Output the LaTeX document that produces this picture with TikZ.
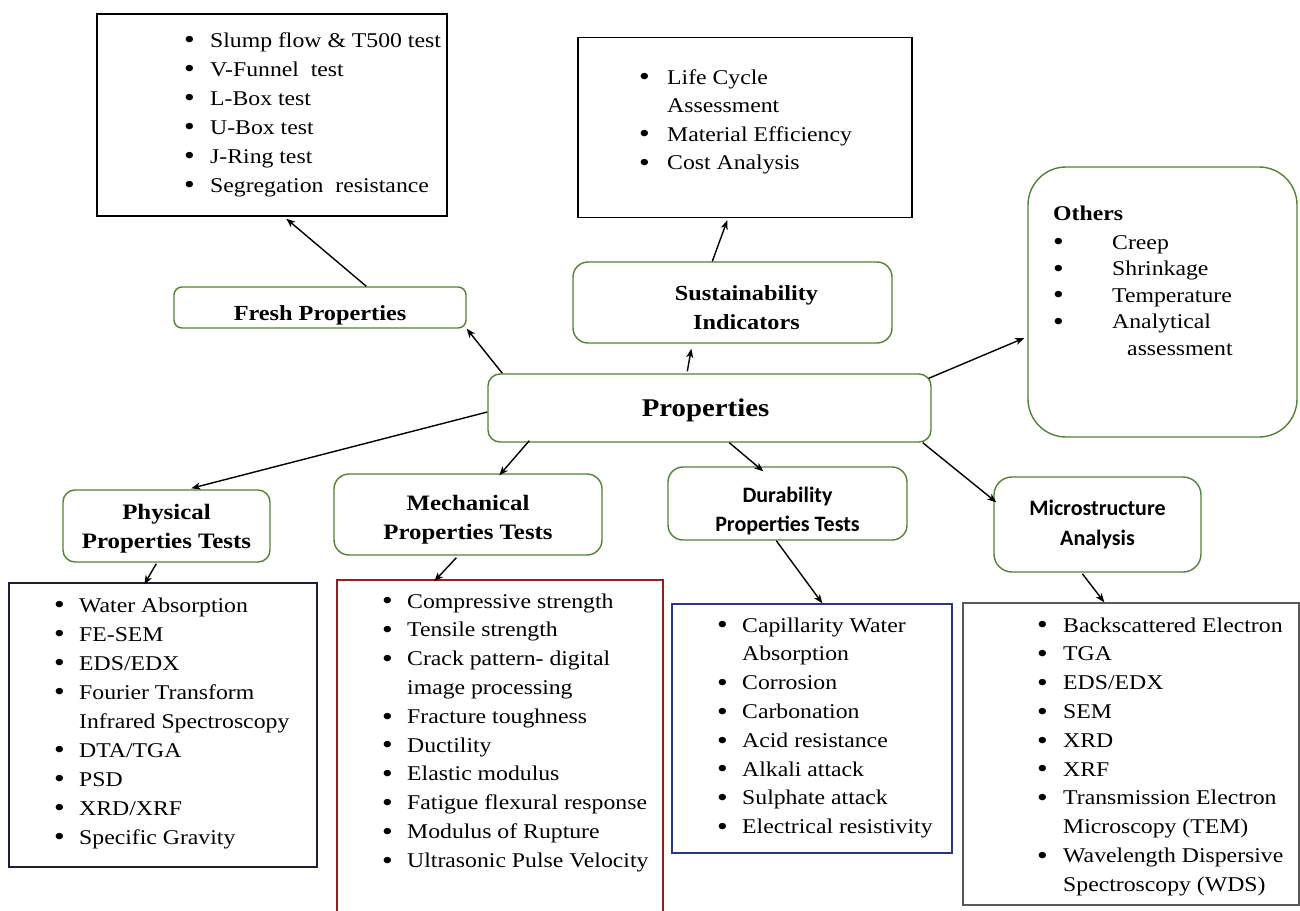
\documentclass[tikz,border=0pt]{standalone}
\usepackage{fontspec}
\setmainfont{Liberation Serif}[FakeStretch=1.13]
\newfontfamily\calib{Carlito}
\usetikzlibrary{arrows.meta,calc}
\definecolor{hgreen}{RGB}{84,130,53}
\definecolor{mechred}{RGB}{150,30,30}
\definecolor{durblue}{RGB}{40,55,130}
\definecolor{physnavy}{RGB}{30,30,60}
\definecolor{microgray}{RGB}{90,90,90}
\newcommand\setfs[2]{\fontsize{#1}{#2}\selectfont}
\newcommand\bul{\raisebox{-1.8pt}{\fontsize{27}{0}\selectfont\textbullet}}
\tikzset{
  hdr/.style={draw=hgreen, line width=1.4pt, rounded corners=#1, inner sep=0pt, align=center},
  hdr/.default=12pt,
  lstbox/.style={draw=#1, line width=1.4pt, inner sep=0pt},
  lsttxt/.style={inner sep=0pt, anchor=base west},
  arr/.style={-{Stealth[length=9pt,width=7pt,inset=2.5pt]}, line width=1.4pt},
}
\begin{document}
\begin{tikzpicture}[x=1pt,y=-1pt]
\useasboundingbox (0,0) rectangle (1300,910);
\fill[white] (0,0) rectangle (1300,910);

% ---------- header (rounded) boxes ----------
\node[hdr=8pt, minimum width=292pt, minimum height=41pt, font=\setfs{21.5}{29}\bfseries] (fresh) at (320,307.5) {\rule{0pt}{31pt}Fresh Properties};
\node[hdr=15pt, minimum width=319pt, minimum height=81pt, font=\setfs{21.5}{29}\bfseries] (sust) at (732.5,302.5) {\rule{0pt}{25pt}\hspace*{28pt}Sustainability\\\hspace*{28pt}Indicators};
\node[hdr=12pt, minimum width=443pt, minimum height=68pt, font=\setfs{25.5}{30}\bfseries] (props) at (709.5,408) {\rule{0pt}{23pt}Properties\hspace*{8pt}};
\node[hdr=38pt, minimum width=269pt, minimum height=270pt] (others) at (1162.5,302) {};
\node[hdr=12pt, minimum width=207pt, minimum height=72pt, font=\setfs{22}{29}\bfseries] (phys) at (166.5,526) {\rule{0pt}{21.5pt}Physical\\Properties Tests};
\node[hdr=15pt, minimum width=268pt, minimum height=81pt, font=\setfs{22}{29}\bfseries] (mech) at (468,514.5) {\rule{0pt}{25pt}Mechanical\\Properties Tests};
\node[hdr=15pt, minimum width=239pt, minimum height=73pt, font=\calib\setfs{22}{29}\bfseries] (dur) at (787.5,503.5) {\rule{0pt}{30pt}Durability\\Properties Tests};
\node[hdr=18pt, minimum width=207pt, minimum height=95pt, font=\calib\setfs{22}{30}\bfseries] (micro) at (1097.5,524.5) {Microstructure\\Analysis};

% ---------- list boxes ----------
\node[lstbox=black, minimum width=350pt, minimum height=202pt] (freshlist) at (272,115) {};
\node[lstbox=black, minimum width=334pt, minimum height=180pt] (sustlist) at (745,127.5) {};
\node[lstbox=physnavy, minimum width=308pt, minimum height=284pt] (physlist) at (163,725) {};
\node[lstbox=mechred, minimum width=326pt, minimum height=340pt] (mechlist) at (500,750) {};
\node[lstbox=durblue, minimum width=280pt, minimum height=249pt] (durlist) at (812,728.5) {};
\node[lstbox=microgray, minimum width=336pt, minimum height=302pt] (microlist) at (1131,754) {};

% ---------- list texts ----------
\node[lsttxt, font=\setfs{21}{29}] (freshtxt) at (184,47) {\begin{tabular}[t]{@{}p{26pt}@{}l@{}}
\bul & Slump flow \& T500 test\\
\bul & V-Funnel\ \ test\\
\bul & L-Box test\\
\bul & U-Box test\\
\bul & J-Ring test\\
\bul & Segregation\ \ resistance
\end{tabular}};

\node[lsttxt, font=\setfs{21}{28.5}] (susttxt) at (639,84) {\begin{tabular}[t]{@{}p{28pt}@{}l@{}}
\bul & Life Cycle\\
 & Assessment\\
\bul & Material Efficiency\\
\bul & Cost Analysis
\end{tabular}};

\node[lsttxt, font=\setfs{21}{26.5}] (othtxt) at (1053,220) {\begin{tabular}[t]{@{}p{59pt}@{}l@{}}
\multicolumn{2}{@{}l@{}}{\textbf{Others}}\\[2.5pt]
\bul & Creep\\
\bul & Shrinkage\\
\bul & Temperature\\
\bul & Analytical\\
 & \hspace*{15pt}assessment
\end{tabular}};

\node[lsttxt, font=\setfs{21}{29}] (phystxt) at (54,612) {\begin{tabular}[t]{@{}p{25pt}@{}l@{}}
\bul & Water Absorption\\
\bul & FE-SEM\\
\bul & EDS/EDX\\
\bul & Fourier Transform\\
 & Infrared Spectroscopy\\
\bul & DTA/TGA\\
\bul & PSD\\
\bul & XRD/XRF\\
\bul & Specific Gravity
\end{tabular}};

\node[lsttxt, font=\setfs{21}{28.8}] (mechtxt) at (382,608) {\begin{tabular}[t]{@{}p{25pt}@{}l@{}}
\bul & Compressive strength\\
\bul & Tensile strength\\
\bul & Crack pattern- digital\\
 & image processing\\
\bul & Fracture toughness\\
\bul & Ductility\\
\bul & Elastic modulus\\
\bul & Fatigue flexural response\\
\bul & Modulus of Rupture\\
\bul & Ultrasonic Pulse Velocity
\end{tabular}};

\node[lsttxt, font=\setfs{21}{28.8}] (durtxt) at (717,632) {\begin{tabular}[t]{@{}p{25pt}@{}l@{}}
\bul & Capillarity Water\\
 & Absorption\\
\bul & Corrosion\\
\bul & Carbonation\\
\bul & Acid resistance\\
\bul & Alkali attack\\
\bul & Sulphate attack\\
\bul & Electrical resistivity
\end{tabular}};

\node[lsttxt, font=\setfs{21}{28.8}] (microtxt) at (1037,632) {\begin{tabular}[t]{@{}p{26pt}@{}l@{}}
\bul & Backscattered Electron\\
\bul & TGA\\
\bul & EDS/EDX\\
\bul & SEM\\
\bul & XRD\\
\bul & XRF\\
\bul & Transmission Electron\\
 & Microscopy (TEM)\\
\bul & Wavelength Dispersive\\
 & Spectroscopy (WDS)
\end{tabular}};

% ---------- connectors ----------
\draw[arr] ($(props.north west)+(15,0)$) -- (fresh.south east);
\draw[arr] ($(props.north west)+(200,-2)$) -- ($(sust.south west)+(119,5)$);
\draw[arr] ($(sust.north west)+(140,0)$) -- ($(sustlist.south west)+(150,2)$);
\draw[arr] ($(fresh.north west)+(193,0)$) -- ($(freshlist.south west)+(190,2)$);
\draw[arr] ($(props.north east)+(-3,5)$) -- ($(others.west)+(-3,36)$);
\draw[arr] ($(props.west)+(0,4)$) -- ($(phys.north west)+(129,-1)$);
\draw[arr] ($(props.south west)+(42,-2)$) -- ($(mech.north west)+(166,2)$);
\draw[arr] ($(props.south west)+(242,0)$) -- ($(dur.north west)+(96,5)$);
\draw[arr] ($(props.south east)+(-9,0)$) -- ($(micro.north west)+(3,26)$);
\draw[arr] ($(phys.south west)+(94,1)$) -- ($(physlist.north west)+(136,2)$);
\draw[arr] ($(mech.south west)+(123,2)$) -- ($(mechlist.north west)+(98,2)$);
\draw[arr] ($(dur.south west)+(109,0)$) -- ($(durlist.north west)+(151,0)$);
\draw[arr] ($(micro.south west)+(89,1)$) -- ($(microlist.north west)+(142,0)$);
\end{tikzpicture}
\end{document}
